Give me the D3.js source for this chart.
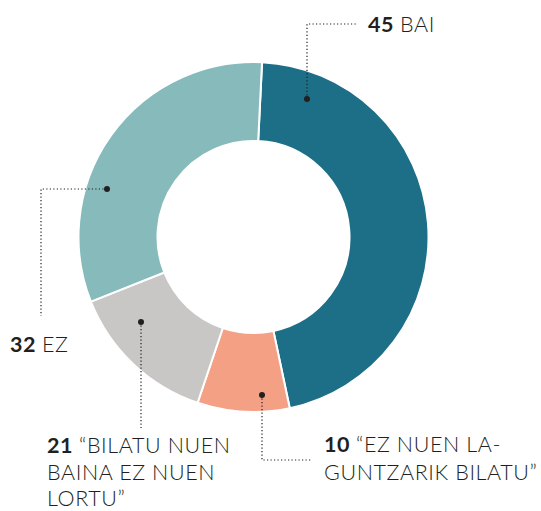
<!DOCTYPE html>
<html>
<head>
<meta charset="utf-8">
<script src="https://cdn.jsdelivr.net/npm/d3@7"></script>
<style>
  body { margin: 0; background: #fff; }
  text { font-family: Lato, "Open Sans", sans-serif; fill: #231f20; }
</style>
</head>
<body>
<div id="chart"></div>
<script>
// Slice keys, the printed numbers, the label lines and slice sizes (read from the arcs)
const keys = ["bai", "lortu_ez", "bilatu_ez", "ez"];
const counts = [45, 10, 21, 32];
const labelLines = [
    ["BAI"],
    ["\u201CEZ NUEN LA-", "GUNTZARIK BILATU\u201D"],
    ["\u201CBILATU NUEN", "BAINA EZ NUEN", "LORTU\u201D"],
    ["EZ"]
];
const shares = [45.9, 8.5, 13.8, 31.8];
const colors = ["#1d6e87", "#f4a085", "#c8c7c6", "#87bbbb"];

const width = 541;
const height = 511;
const cx = 253.5, cy = 237;
const outerR = 175, innerR = 96;

const svg = d3.select("#chart")
    .append("svg")
    .attr("width", width)
    .attr("height", height);

const g = svg.append("g").attr("transform", `translate(${cx},${cy})`);

const startA = 2.8 * Math.PI / 180;
const pie = d3.pie()
    .sort(null)
    .value(d => d)
    .startAngle(startA)
    .endAngle(startA + 2 * Math.PI);

const arc = d3.arc().innerRadius(innerR).outerRadius(outerR);
const arcs = pie(shares);

g.selectAll("path")
    .data(arcs)
    .enter()
    .append("path")
    .attr("d", arc)
    .attr("fill", (d, i) => colors[i])
    .attr("stroke", "#fff")
    .attr("stroke-width", 2);

// leader lines: dot on the slice, dotted elbow to the label
const leaders = [
    { dot: [307, 99], path: [[307, 24], [357, 24]], text: [368, 32], gap: 27.5 },
    { dot: [262, 395], path: [[262, 460], [312, 460]], text: [324, 452], gap: 27.5 },
    { dot: [141, 322], path: [[141, 428]], text: [47, 453], gap: 26.5 },
    { dot: [107, 189], path: [[41, 189], [41, 316]], text: [10, 352], gap: 27.5 }
];

const lineGen = d3.line();
const lg = svg.append("g");
leaders.forEach((l, i) => {
    lg.append("path")
        .attr("d", lineGen([l.dot].concat(l.path)))
        .attr("fill", "none")
        .attr("stroke", "#231f20")
        .attr("stroke-width", 1.2)
        .attr("stroke-dasharray", "1.2,2.3");
    lg.append("circle")
        .attr("cx", l.dot[0]).attr("cy", l.dot[1])
        .attr("r", 3)
        .attr("fill", "#231f20");

    const t = lg.append("text")
        .attr("x", l.text[0])
        .attr("y", l.text[1])
        .attr("font-size", 21.5)
        .attr("letter-spacing", 0.6);
    labelLines[i].forEach((line, j) => {
        const ts = t.append("tspan")
            .attr("x", l.text[0])
            .attr("dy", j === 0 ? 0 : l.gap);
        if (j === 0) {
            ts.append("tspan").attr("font-weight", 700).text(counts[i] + " ");
        }
        ts.append("tspan").attr("font-weight", 300).text(line);
    });
});
</script>
</body>
</html>
